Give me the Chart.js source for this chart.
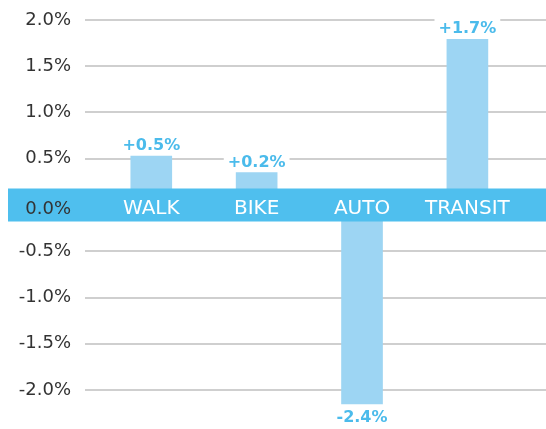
<!DOCTYPE html>
<html>
<head>
<meta charset="utf-8">
<script src="https://cdn.jsdelivr.net/npm/chart.js@4.4.0/dist/chart.umd.min.js"></script>
<style>
  body { margin: 0; background: #fff; }
  canvas { display: block; }
</style>
</head>
<body>
<canvas id="myChart" width="546" height="429"></canvas>
<script>
// Datos
const categorias = ['WALK', 'BIKE', 'AUTO', 'TRANSIT'];
const valores = [0.53, 0.35, -2.15, 1.79];
const etiquetas = ['+0.5%', '+0.2%', '-2.4%', '+1.7%'];

const azulBanda = '#4fbfee';
const azulBarra = '#9dd5f3';
const azulTexto = '#4bbbeb';

// Banda del cero, nombres de categoria y etiquetas de valor
const bandaPlugin = {
    id: 'banda',
    afterDatasetsDraw(chart) {
        const ctx = chart.ctx;
        const x = chart.scales.x;
        const y = chart.scales.y;
        const cero = y.getPixelForValue(0);

        ctx.save();
        ctx.fillStyle = azulBanda;
        ctx.fillRect(8, cero - 16.5, chart.width - 8, 33);

        ctx.textBaseline = 'alphabetic';
        ctx.font = '18px "DejaVu Sans"';
        ctx.fillStyle = '#333';
        ctx.textAlign = 'right';
        ctx.fillText('0.0%', 71, cero + 8.5);

        ctx.font = '20px "DejaVu Sans"';
        ctx.fillStyle = '#fff';
        ctx.textAlign = 'center';
        categorias.forEach((cat, i) => {
            ctx.fillText(cat, x.getPixelForValue(i), cero + 8.5);
        });

        ctx.font = 'bold 16px "DejaVu Sans"';
        const meta = chart.getDatasetMeta(0);
        meta.data.forEach((bar, i) => {
            const texto = etiquetas[i];
            const w = ctx.measureText(texto).width;
            const base = valores[i] >= 0 ? bar.y - 6 : bar.y + 18;
            ctx.fillStyle = '#fff';
            ctx.fillRect(bar.x - w / 2 - 4, base - 15, w + 8, 18);
            ctx.fillStyle = azulTexto;
            ctx.fillText(texto, bar.x, base);
        });
        ctx.restore();
    }
};

const ctx = document.getElementById('myChart').getContext('2d');
new Chart(ctx, {
    type: 'bar',
    data: {
        datasets: [{
            data: valores.map((v, i) => ({ x: i, y: v })),
            backgroundColor: azulBarra,
            borderWidth: 0,
            barThickness: 41
        }]
    },
    options: {
        responsive: false,
        animation: false,
        layout: { padding: 0 },
        plugins: {
            legend: { display: false },
            tooltip: { enabled: false }
        },
        scales: {
            x: {
                type: 'linear',
                min: -0.629,
                max: 3.746,
                offset: false,
                display: false
            },
            y: {
                min: -2.4216,
                max: 2.2162,
                border: { display: false },
                grid: { color: '#cfcfcf', lineWidth: 2, drawTicks: false },
                ticks: {
                    stepSize: 0.5,
                    includeBounds: false,
                    padding: 14,
                    color: '#333',
                    font: { family: 'DejaVu Sans', size: 18 },
                    callback: v => v === 0 ? '' : v.toFixed(1) + '%'
                },
                afterFit(scale) {
                    scale.width = 85;
                    scale.paddingTop = 0;
                    scale.paddingBottom = 0;
                }
            }
        }
    },
    plugins: [bandaPlugin]
});
</script>
</body>
</html>
